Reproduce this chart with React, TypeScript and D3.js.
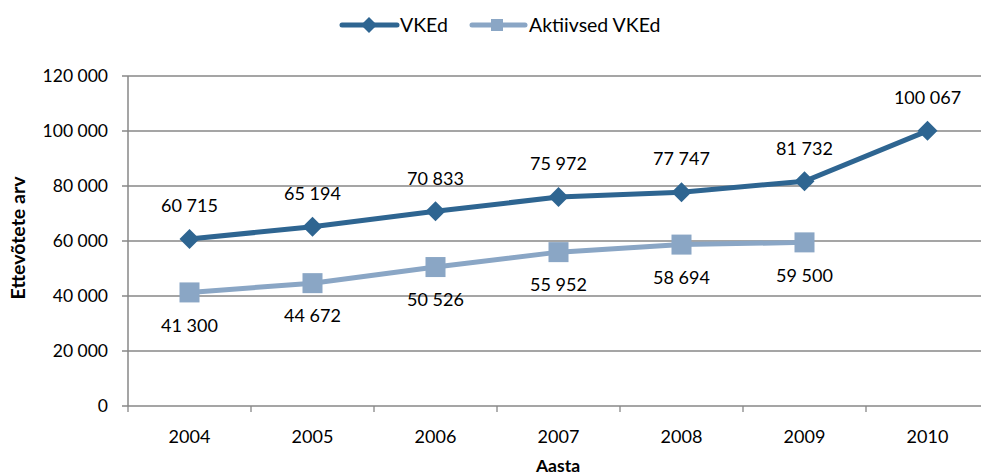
import React from "react";
import * as d3 from "d3";

const years = ["2004", "2005", "2006", "2007", "2008", "2009", "2010"];
const vkedValues = [60715, 65194, 70833, 75972, 77747, 81732, 100067];
const aktiivsedYears = ["2004", "2005", "2006", "2007", "2008", "2009"];
const aktiivsedValues = [41300, 44672, 50526, 55952, 58694, 59500];
const yTicks = [0, 20000, 40000, 60000, 80000, 100000, 120000];

const W = 981;
const H = 476;
const margin = { top: 76, right: -8, bottom: 70, left: 128 };
const innerW = W - margin.left - margin.right;
const innerH = H - margin.top - margin.bottom;

const darkBlue = "#2E6591";
const lightBlue = "#8AA6C5";
const gridColor = "#878787";
const font = "Lato, 'Open Sans', sans-serif";

// spaces as thousands separator, like "60 715"
const fmt = (v: number) => d3.format(",")(v).replace(/,/g, " ");

export default function App() {
  const x = d3.scaleBand().domain(years).range([0, innerW]);
  const y = d3.scaleLinear().domain([0, 120000]).range([innerH, 0]);
  const cx = (yr: string) => (x(yr) as number) + x.bandwidth() / 2;

  const vked = years.map((yr, i) => ({ yr, v: vkedValues[i] }));
  const akt = aktiivsedYears.map((yr, i) => ({ yr, v: aktiivsedValues[i] }));

  const line = d3
    .line<{ yr: string; v: number }>()
    .x((d) => cx(d.yr))
    .y((d) => y(d.v));

  const diamond = (s: number) =>
    `M0,${-s}L${s},0L0,${s}L${-s},0Z`;

  return (
    <svg
      width={W}
      height={H}
      style={{ position: "absolute", left: 0, top: 0, background: "#fff" }}
      fontFamily={font}
    >
      {/* legend */}
      <g transform="translate(0,25)">
        <line x1={342} x2={397} y1={0} y2={0} stroke={darkBlue} strokeWidth={5} strokeLinecap="round" />
        <path d={diamond(8)} transform="translate(369,0)" fill={darkBlue} />
        <text x={400} y={0} dy="0.35em" fontSize={19.5} fill="#000">VKEd</text>
        <line x1={472} x2={525} y1={0} y2={0} stroke={lightBlue} strokeWidth={5} strokeLinecap="round" />
        <rect x={491} y={-6} width={12} height={12} fill={lightBlue} />
        <text x={529} y={0} dy="0.35em" fontSize={19.5} fill="#000">Aktiivsed VKEd</text>
      </g>

      <g transform={`translate(${margin.left},${margin.top})`}>
        {/* gridlines and y ticks */}
        {yTicks.map((t) => (
          <g key={t} transform={`translate(0,${y(t)})`}>
            <line x1={-6} x2={innerW} stroke={gridColor} strokeWidth={1.3} />
            <text x={-20} dy="0.35em" textAnchor="end" fontSize={17.5} fill="#000">
              {fmt(t)}
            </text>
          </g>
        ))}
        {/* y axis line */}
        <line x1={0} x2={0} y1={0} y2={innerH} stroke={gridColor} strokeWidth={1.5} />
        {/* x ticks */}
        {years.map((yr) => (
          <line
            key={yr}
            x1={x(yr) as number}
            x2={x(yr) as number}
            y1={innerH}
            y2={innerH + 6}
            stroke={gridColor}
            strokeWidth={1.3}
          />
        ))}
        {years.map((yr) => (
          <text key={yr} x={cx(yr)} y={innerH + 31} dy="0.35em" textAnchor="middle" fontSize={18} fill="#000">
            {yr}
          </text>
        ))}

        {/* series: Aktiivsed VKEd */}
        <path d={line(akt) as string} fill="none" stroke={lightBlue} strokeWidth={5} />
        {akt.map((d) => (
          <g key={d.yr}>
            <rect x={cx(d.yr) - 10} y={y(d.v) - 10} width={20} height={20} fill={lightBlue} />
            <text x={cx(d.yr)} y={y(d.v) + 33} dy="0.35em" textAnchor="middle" fontSize={18} fill="#000">
              {fmt(d.v)}
            </text>
          </g>
        ))}

        {/* series: VKEd */}
        <path d={line(vked) as string} fill="none" stroke={darkBlue} strokeWidth={5} />
        {vked.map((d) => (
          <g key={d.yr}>
            <path d={diamond(10)} transform={`translate(${cx(d.yr)},${y(d.v)})`} fill={darkBlue} />
            <text x={cx(d.yr)} y={y(d.v) - 33} dy="0.35em" textAnchor="middle" fontSize={18} fill="#000">
              {fmt(d.v)}
            </text>
          </g>
        ))}
      </g>

      {/* axis titles */}
      <text
        transform="translate(18,238) rotate(-90)"
        dy="0.35em"
        textAnchor="middle"
        fontSize={19.5}
        fontWeight="bold"
        fill="#000"
      >
        Ettevõtete arv
      </text>
      <text x={558} y={466} dy="0.35em" textAnchor="middle" fontSize={17.5} fontWeight="bold" fill="#000">
        Aasta
      </text>
    </svg>
  );
}
